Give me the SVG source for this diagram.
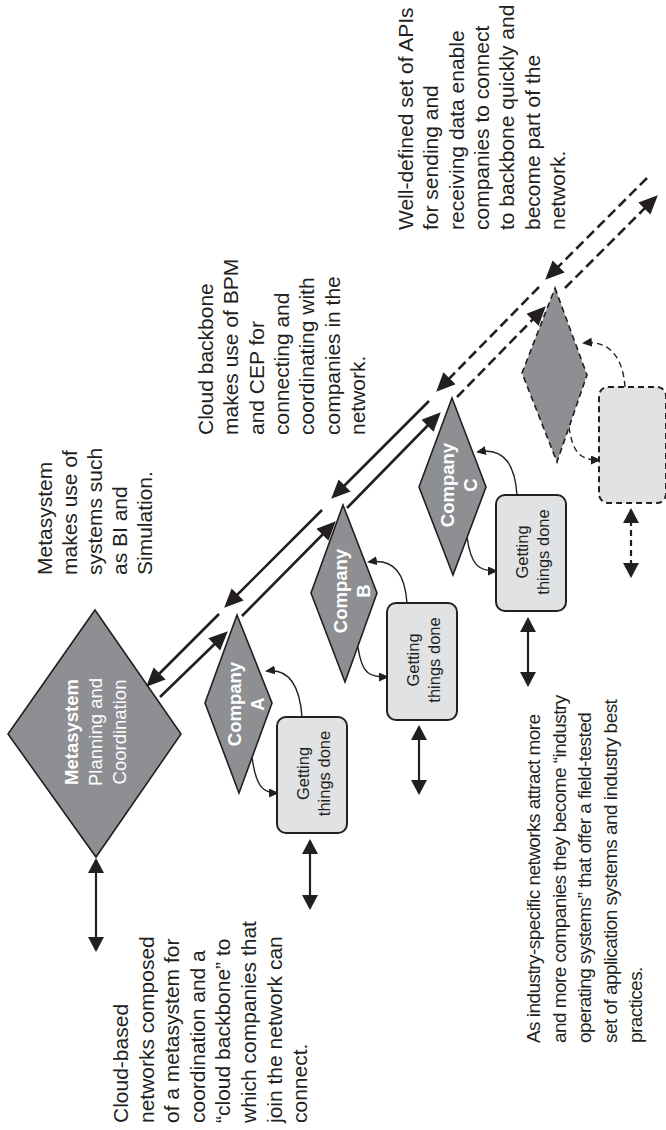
<svg xmlns="http://www.w3.org/2000/svg" width="666" height="1130" viewBox="0 0 666 1130">
  <style>
    .note { font-family: "Liberation Sans", Arial, sans-serif; font-size: 21px; fill: #231f20; }
    .tight { font-size: 19px; letter-spacing: -0.55px; }
    .meta { font-family: "Liberation Sans", Arial, sans-serif; font-size: 18.5px; fill: #ffffff; text-anchor: middle; }
    .co { font-family: "Liberation Sans", Arial, sans-serif; font-size: 18.5px; font-weight: bold; fill: #ffffff; text-anchor: middle; }
    .task { font-family: "Liberation Sans", Arial, sans-serif; font-size: 16.5px; fill: #231f20; text-anchor: middle; }
    .dia { fill: #8e8f93; stroke: #231f20; stroke-width: 1.6; stroke-linejoin: miter; }
    .box { fill: #e1e2e4; stroke: #231f20; stroke-width: 2; }
    .dash { stroke-dasharray: 6 4; }
    .bb { fill: none; stroke: #231f20; stroke-width: 2.6; }
    .bbd { stroke-dasharray: 10 5; }
    .vt { fill: none; stroke: #231f20; stroke-width: 2.2; }
    .cv { fill: none; stroke: #231f20; stroke-width: 1.4; }
  </style>
  <defs>
    <marker id="big" markerUnits="userSpaceOnUse" markerWidth="20" markerHeight="18" refX="15" refY="8.5" orient="auto">
      <path d="M0,0 L19,8.5 L0,17 z" fill="#231f20"/>
    </marker>
    <marker id="vh" markerUnits="userSpaceOnUse" markerWidth="17" markerHeight="17" refX="13" refY="8" orient="auto-start-reverse">
      <path d="M0,0 L15,8 L0,16 z" fill="#231f20"/>
    </marker>
    <marker id="sm" markerUnits="userSpaceOnUse" markerWidth="10" markerHeight="9" refX="8" refY="4.5" orient="auto">
      <path d="M0,0 L10,4.5 L0,9 z" fill="#231f20"/>
    </marker>
  </defs>

  <!-- connectors -->
  <g id="connectors">
    <!-- backbone: toward the metasystem -->
    <line class="bb" x1="219" y1="614" x2="149" y2="684" marker-end="url(#big)"/>
    <line class="bb" x1="322" y1="510" x2="227" y2="605" marker-end="url(#big)"/>
    <line class="bb" x1="429" y1="401" x2="334" y2="496" marker-end="url(#big)"/>
    <line class="bb bbd" x1="539" y1="287" x2="439" y2="389" marker-end="url(#big)"/>
    <line class="bb bbd" x1="647" y1="178" x2="548" y2="277" marker-end="url(#big)"/>
    <!-- backbone: toward the companies -->
    <line class="bb" x1="160" y1="697" x2="225" y2="634" marker-end="url(#big)"/>
    <line class="bb" x1="242" y1="616" x2="333" y2="524" marker-end="url(#big)"/>
    <line class="bb" x1="347" y1="508" x2="438" y2="415" marker-end="url(#big)"/>
    <line class="bb bbd" x1="457" y1="397" x2="543" y2="309" marker-end="url(#big)"/>
    <line class="bb bbd" x1="565" y1="288" x2="655" y2="198" marker-end="url(#big)"/>

    <!-- vertical two-way links -->
    <line class="vt" x1="96" y1="860" x2="96" y2="950" marker-start="url(#vh)" marker-end="url(#vh)"/>
    <line class="vt" x1="310" y1="841" x2="310" y2="908" marker-start="url(#vh)" marker-end="url(#vh)"/>
    <line class="vt" x1="419" y1="727" x2="419" y2="793" marker-start="url(#vh)" marker-end="url(#vh)"/>
    <line class="vt" x1="528" y1="619" x2="528" y2="685" marker-start="url(#vh)" marker-end="url(#vh)"/>
    <line class="vt dash" x1="631" y1="510" x2="631" y2="576" marker-start="url(#vh)" marker-end="url(#vh)"/>

    <!-- company to task loops -->
    <path class="cv" d="M252,757 C256,788 264,793 277,793" marker-end="url(#sm)"/>
    <path class="cv" d="M302,717 C300,688 290,668 267,671" marker-end="url(#sm)"/>
    <path class="cv" d="M358,647 C362,675 370,677 387,677" marker-end="url(#sm)"/>
    <path class="cv" d="M407,603 C405,575 395,558 369,562" marker-end="url(#sm)"/>
    <path class="cv" d="M467,537 C471,566 479,571 496,571" marker-end="url(#sm)"/>
    <path class="cv" d="M517,495 C515,466 505,447 478,452" marker-end="url(#sm)"/>
    <path class="cv dash" d="M569,427 C573,455 582,460 599,460" marker-end="url(#sm)"/>
    <path class="cv dash" d="M625,387 C623,358 610,340 584,343" marker-end="url(#sm)"/>
  </g>

  <!-- metasystem -->
  <g id="metasystem">
    <polygon class="dia" points="95,610 181,734 96,857 8,734"/>
    <g transform="translate(77.5,732) rotate(-90)">
      <text class="meta"><tspan x="0" y="0" font-weight="bold">Metasystem</tspan><tspan x="0" y="24">Planning and</tspan><tspan x="0" y="48">Coordination</tspan></text>
    </g>
  </g>

  <!-- companies -->
  <g id="company-a">
    <polygon class="dia" points="237,615 272,703 239,793 205,703"/>
    <g transform="translate(241,704) rotate(-90)">
      <text class="co"><tspan x="0" y="0">Company</tspan><tspan x="0" y="23">A</tspan></text>
    </g>
  </g>
  <g id="company-b">
    <polygon class="dia" points="343,505 377,593 345,682 311,593"/>
    <g transform="translate(347,591) rotate(-90)">
      <text class="co"><tspan x="0" y="0">Company</tspan><tspan x="0" y="23">B</tspan></text>
    </g>
  </g>
  <g id="company-c">
    <polygon class="dia" points="452,398 486,487 453,575 419,487"/>
    <g transform="translate(454,485) rotate(-90)">
      <text class="co"><tspan x="0" y="0">Company</tspan><tspan x="0" y="23">C</tspan></text>
    </g>
  </g>
  <g id="company-next">
    <polygon class="dia dash" points="555,288 587,375 557,462 522,373"/>
  </g>

  <!-- task boxes -->
  <g id="task-a">
    <rect class="box" x="277" y="717" width="70" height="116" rx="9"/>
    <g transform="translate(308.5,773.5) rotate(-90)">
      <text class="task"><tspan x="0" y="0">Getting</tspan><tspan x="0" y="21.5">things done</tspan></text>
    </g>
  </g>
  <g id="task-b">
    <rect class="box" x="387" y="603" width="70" height="117" rx="9"/>
    <g transform="translate(418.5,660) rotate(-90)">
      <text class="task"><tspan x="0" y="0">Getting</tspan><tspan x="0" y="21.5">things done</tspan></text>
    </g>
  </g>
  <g id="task-c">
    <rect class="box" x="496" y="495" width="70" height="116" rx="9"/>
    <g transform="translate(527.5,552) rotate(-90)">
      <text class="task"><tspan x="0" y="0">Getting</tspan><tspan x="0" y="21.5">things done</tspan></text>
    </g>
  </g>
  <g id="task-next">
    <rect class="box dash" x="599" y="387" width="67" height="116" rx="9"/>
  </g>

  <!-- annotations -->
  <g id="note-network" transform="translate(128,1123) rotate(-90)">
    <text class="note"><tspan x="0" y="0">Cloud-based</tspan><tspan x="0" dy="25.6">networks composed</tspan><tspan x="0" dy="25.6">of a metasystem for</tspan><tspan x="0" dy="25.6">coordination and a</tspan><tspan x="0" dy="25.6">“cloud backbone” to</tspan><tspan x="0" dy="25.6">which companies that</tspan><tspan x="0" dy="25.6">join the network can</tspan><tspan x="0" dy="25.6">connect.</tspan></text>
  </g>
  <g id="note-industry" transform="translate(540,1043) rotate(-90)">
    <text class="note tight"><tspan x="0" y="0">As industry-specific networks attract more</tspan><tspan x="0" dy="25.6">and more companies they become “industry</tspan><tspan x="0" dy="25.6">operating systems” that offer a field-tested</tspan><tspan x="0" dy="25.6">set of application systems and industry best</tspan><tspan x="0" dy="25.6">practices.</tspan></text>
  </g>
  <g id="note-metasystem" transform="translate(52,575) rotate(-90)">
    <text class="note"><tspan x="0" y="0">Metasystem</tspan><tspan x="0" dy="25">makes use of</tspan><tspan x="0" dy="25">systems such</tspan><tspan x="0" dy="25">as BI and</tspan><tspan x="0" dy="25">Simulation.</tspan></text>
  </g>
  <g id="note-backbone" transform="translate(213,435) rotate(-90)">
    <text class="note"><tspan x="0" y="0">Cloud backbone</tspan><tspan x="0" dy="25.3">makes use of BPM</tspan><tspan x="0" dy="25.3">and CEP for</tspan><tspan x="0" dy="25.3">connecting and</tspan><tspan x="0" dy="25.3">coordinating with</tspan><tspan x="0" dy="25.3">companies in the</tspan><tspan x="0" dy="25.3">network.</tspan></text>
  </g>
  <g id="note-apis" transform="translate(413,230) rotate(-90)">
    <text class="note"><tspan x="0" y="0">Well-defined set of APIs</tspan><tspan x="0" dy="25.3">for sending and</tspan><tspan x="0" dy="25.3">receiving data enable</tspan><tspan x="0" dy="25.3">companies to connect</tspan><tspan x="0" dy="25.3">to backbone quickly and</tspan><tspan x="0" dy="25.3">become part of the</tspan><tspan x="0" dy="25.3">network.</tspan></text>
  </g>
</svg>
